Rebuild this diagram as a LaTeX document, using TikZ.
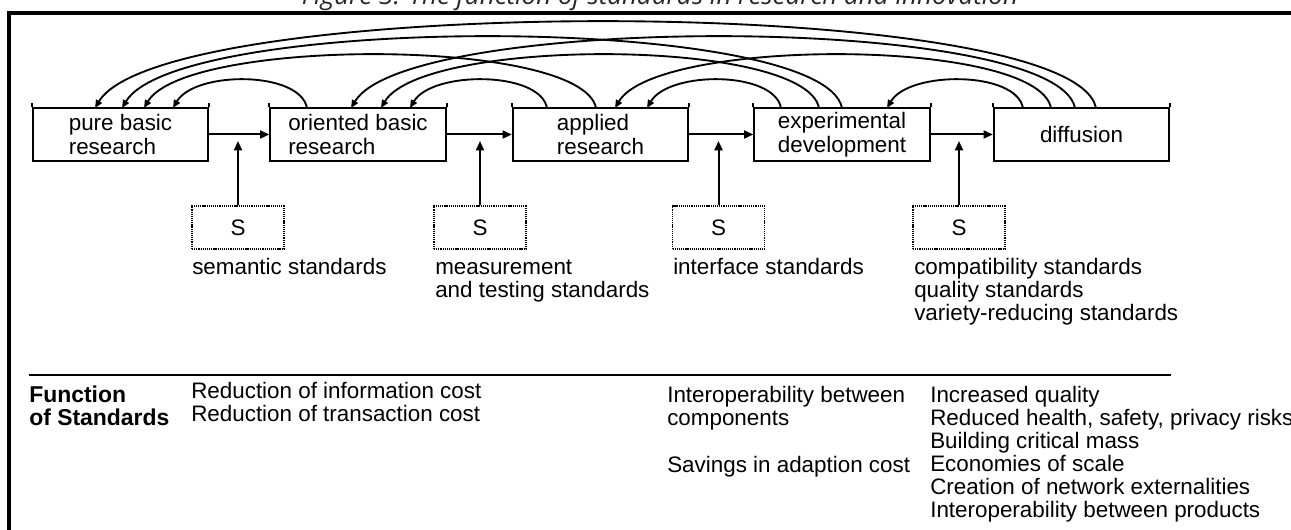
\documentclass[tikz,border=0pt]{standalone}
\usepackage{fontspec}
\setmainfont{Liberation Sans}
\newfontfamily\titlefont{Open Sans}
\usetikzlibrary{arrows.meta,calc}
\begin{document}
\begin{tikzpicture}[x=0.75pt,y=-0.75pt,
  every node/.style={font=\fontsize{16.8}{17.2}\selectfont},
  box/.style={draw, line width=1.5pt, minimum width=131.5pt, minimum height=39.75pt, align=left, inner sep=0pt, font=\fontsize{16.8}{18}\selectfont},
  sbox/.style={draw, line width=1.2pt, dash pattern=on 0.9pt off 0.7pt, minimum width=69pt, minimum height=32.25pt, inner sep=0pt},
  lab/.style={anchor=base west, align=left, inner sep=0pt},
  arr/.style={line width=1.5pt, -{Triangle[length=7pt,width=6pt]}},
  arcline/.style={line width=1.4pt, -{Triangle[length=6pt,width=5pt]}},
  frame/.style={line width=2.6pt}
]
\useasboundingbox (0,0) rectangle (1291,530);

% title (partly cut off)
\node[anchor=base, inner sep=0pt, font=\titlefont\itshape\fontsize{19.5}{20}\selectfont, text=black!85] (title) at (660,5) {Figure 3: The function of standards in research and innovation};

% frame
\draw[frame] (9,545) -- (9,13) -- (1300,13);

% main boxes
\node[box] (b1) at (120.5,134.5) {pure basic\\research};
\node[box] (b2) at (358,134.5) {oriented basic\\research};
\node[box] (b3) at (600.5,134.5) {applied\\research};
\node[box] (b4) at (842,134.5) {experimental\\development};
\node[box] (b5) at (1081.5,134.5) {diffusion};
\foreach \b in {b1,b2,b3,b4,b5}{
  \draw[line width=1.5pt] (\b.north west) -- ++(0,-4) (\b.north east) -- ++(0,-4);
}

% forward arrows
\draw[arr] (b1.east) -- (b2.west);
\draw[arr] (b2.east) -- (b3.west);
\draw[arr] (b3.east) -- (b4.west);
\draw[arr] (b4.east) -- (b5.west);

% standards boxes
\node[sbox] (s1) at (238,227.5) {S};
\node[sbox] (s2) at (480,227.5) {S};
\node[sbox] (s3) at (718.5,227.5) {S};
\node[sbox] (s4) at (959,227.5) {S};
\coordinate (t1) at (238,141);
\coordinate (t2) at (480,141);
\coordinate (t3) at (718.5,141);
\coordinate (t4) at (959,141);
\draw[arr] (s1.north) -- (t1);
\draw[arr] (s2.north) -- (t2);
\draw[arr] (s3.north) -- (t3);
\draw[arr] (s4.north) -- (t4);

% labels (base anchor = baseline of the last line)
\node[lab] (l1) at (192,275) {semantic standards};
\node[lab] (l2) at (435,297.9) {measurement\\and testing standards};
\node[lab] (l3) at (673,275) {interface standards};
\node[lab] (l4) at (914,320.8) {compatibility standards\\quality standards\\variety-reducing standards};

% feedback arc end points
\coordinate (e15) at (95,108);
\coordinate (e14) at (122,108);
\coordinate (e13) at (144,108);
\coordinate (e12) at (173,108);
\coordinate (s21) at (307,108);
\coordinate (e25) at (351,108);
\coordinate (e24) at (381,108);
\coordinate (e23) at (410,108);
\coordinate (s32) at (547,108);
\coordinate (s31) at (596,108);
\coordinate (e35) at (615,108);
\coordinate (e34) at (647,108);
\coordinate (s43) at (781,108);
\coordinate (s42) at (819,108);
\coordinate (s41) at (842,108);
\coordinate (e45) at (887,108);
\coordinate (s54) at (1023,108);
\coordinate (s53) at (1051,108);
\coordinate (s52) at (1075,108);
\coordinate (s51) at (1096,108);

% level 1
\draw[arcline] (s21) .. controls (300,70.7) and (195,70.7) .. (e12);
\draw[arcline] (s32) .. controls (540,70.7) and (432,70.7) .. (e23);
\draw[arcline] (s43) .. controls (774,70.7) and (669,70.7) .. (e34);
\draw[arcline] (s54) .. controls (1016,70.7) and (909,70.7) .. (e45);
% level 2
\draw[arcline] (s31) .. controls (582,37.3) and (186,37.3) .. (e13);
\draw[arcline] (s42) .. controls (805,37.3) and (423,37.3) .. (e24);
\draw[arcline] (s53) .. controls (1037,37.3) and (657,37.3) .. (e35);
% level 3
\draw[arcline] (s41) .. controls (823,13.3) and (179,13.3) .. (e14);
\draw[arcline] (s52) .. controls (1056,13.3) and (408,13.3) .. (e25);
% level 4
\draw[arcline] (s51) .. controls (1073,-6.7) and (164,-6.7) .. (e15);

% separator
\coordinate (sepL) at (29,375);
\coordinate (sepR) at (1171,375);
\draw[line width=1.3pt] (sepL) -- (sepR);

% function of standards
\node[lab, font=\bfseries\fontsize{17.2}{17.2}\selectfont] (fun) at (29,425.9) {Function\\of Standards};
\node[lab] (f1) at (191,421.9) {Reduction of information cost\\Reduction of transaction cost};
\node[lab] (f2) at (667,425.9) {Interoperability between\\components};
\node[lab] (f3) at (667,472) {Savings in adaption cost};
\node[lab] (f4) at (930,517.5) {Increased quality\\Reduced health, safety, privacy risks\\Building critical mass\\Economies of scale\\Creation of network externalities\\Interoperability between products};
\end{tikzpicture}
\end{document}
